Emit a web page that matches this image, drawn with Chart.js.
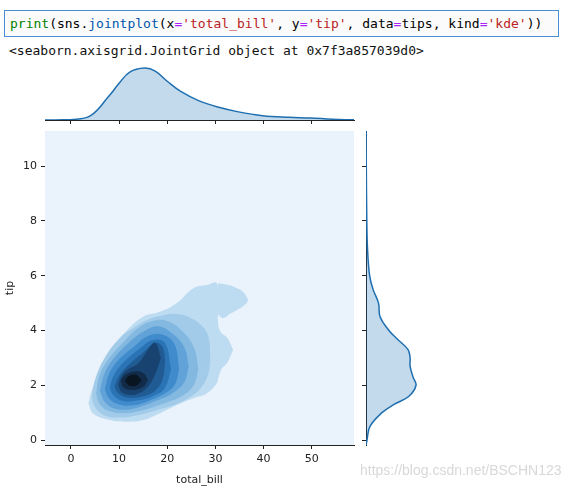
<!DOCTYPE html>
<html>
<head>
<meta charset="utf-8">
<script src="https://cdn.jsdelivr.net/npm/chart.js@4"></script>
<style>
  body { margin: 0; width: 566px; height: 491px; background: #fff; position: relative; overflow: hidden; }
  .cell { position: absolute; left: 4px; top: 10px; width: 555px; height: 27px; border: 1px solid #4a8fd4; background: #fbfbfb;
          font: 13px "DejaVu Sans Mono", monospace; line-height: 25px; padding-left: 5px; box-sizing: border-box; white-space: pre; }
  .out { position: absolute; left: 9px; top: 43px; font: 13px "DejaVu Sans Mono", monospace; white-space: pre; color: #111; }
  .k { color: #008000; } .f { color: #0055aa; } .s { color: #ba2121; } .o { color: #aa22ff; }
  canvas { position: absolute; }
  .wm { position: absolute; left: 360px; top: 462px; font: 14px "Liberation Sans", sans-serif; color: #d8d8d8; }
</style>
</head>
<body>
<div class="cell"><span class="k">print</span>(sns.<span class="f">jointplot</span>(x<span class="o">=</span><span class="s">'total_bill'</span>, y<span class="o">=</span><span class="s">'tip'</span>, data<span class="o">=</span>tips, kind<span class="o">=</span><span class="s">'kde'</span>))</div>
<div class="out">&lt;seaborn.axisgrid.JointGrid object at 0x7f3a857039d0&gt;</div>
<div style="position:absolute;left:0;top:60px;width:360px;height:70px"><canvas id="top"></canvas></div>
<div style="position:absolute;left:0;top:120px;width:360px;height:371px"><canvas id="main"></canvas></div>
<div style="position:absolute;left:356px;top:120px;width:80px;height:371px"><canvas id="right"></canvas></div>
<div class="wm">https://blog.csdn.net/BSCHN123</div>
<script>
const xTicks = [0, 10, 20, 30, 40, 50];
const yTicks = [0, 2, 4, 6, 8, 10];

// marginal KDE of total_bill
const billGrid = [-5.4, 0.1, 4, 7.8, 10, 12.2, 15.3, 17.5, 20, 22.8, 26.5, 30.3, 34.8, 39.8, 45.3, 49.8, 54.3, 58.8];
const billDensity = [0, 0.0006, 0.005, 0.0285, 0.0446, 0.0583, 0.0632, 0.0595, 0.0471, 0.0347, 0.0236, 0.0161, 0.0099, 0.0053, 0.0033, 0.0025, 0.0009, 0.0002];

// marginal KDE of tip
const tipGrid = [-0.2, 0, 0.5, 1, 1.3, 1.6, 2, 2.3, 2.7, 3, 3.3, 3.7, 4, 4.5, 5, 5.5, 6, 7, 8, 10, 11.3];
const tipDensity = [0, 0.0044, 0.0176, 0.0704, 0.123, 0.189, 0.22, 0.207, 0.194, 0.194, 0.185, 0.136, 0.101, 0.062, 0.055, 0.031, 0.016, 0.0066, 0.0035, 0.0013, 0.0004];

// joint KDE contour bands, outer -> inner: [xs, lower, upper]
const levelColors = ["#bedcf1", "#a2cbe9", "#83b8e1", "#61a3d8", "#408bcb", "#2a73b5", "#215b94", "#184370", "#112b48", "#0a1522"];
const bands = [
  [[3.6, 4.6, 8.1, 11.6, 15, 18.5, 22, 25.4, 28.2, 30.3, 30.6, 31.3, 32.4, 33.7],
   [1.34, 0.97, 0.73, 0.67, 0.73, 0.98, 1.28, 1.53, 1.7, 2.07, 2.25, 2.6, 2.8, 3.3],
   [1.34, 1.95, 3.2, 4.0, 4.5, 4.68, 5.0, 5.54, 5.66, 5.72, 4.2, 3.9, 3.75, 3.3]],
  [[30.4, 31.6, 33, 34.4, 35.5, 36.5, 36.8],
   [4.6, 4.45, 4.6, 4.74, 4.85, 5.0, 5.1],
   [5.72, 5.7, 5.65, 5.55, 5.45, 5.23, 5.1]],
  [[4.3, 5, 7, 10, 13, 16, 19, 22, 25, 27, 28.5, 29],
   [1.58, 1.2, 0.9, 0.82, 0.88, 1.0, 1.15, 1.32, 1.6, 1.9, 2.4, 3.0],
   [1.58, 2.2, 3.0, 3.7, 4.1, 4.4, 4.55, 4.6, 4.45, 4.2, 3.8, 3.0]],
  [[5.2, 6, 8, 11, 14, 17, 20, 23, 25.5, 26.5],
   [1.7, 1.3, 1.05, 0.98, 1.05, 1.2, 1.38, 1.6, 2.0, 2.6],
   [1.7, 2.4, 3.0, 3.6, 4.1, 4.35, 4.35, 4.0, 3.4, 2.6]],
  [[6, 7, 9, 12, 15, 18, 21, 23.5, 24.5],
   [1.8, 1.4, 1.15, 1.12, 1.25, 1.45, 1.7, 2.1, 2.7],
   [1.8, 2.45, 3.0, 3.55, 3.95, 4.15, 3.9, 3.4, 2.7]],
  [[7, 8, 10, 13, 16, 19, 21.5, 22.5],
   [1.85, 1.5, 1.3, 1.27, 1.42, 1.65, 2.0, 2.6],
   [1.85, 2.45, 2.95, 3.4, 3.8, 3.85, 3.5, 2.6]],
  [[8, 9, 11, 14, 17, 19.5, 20.8],
   [1.9, 1.6, 1.42, 1.45, 1.6, 1.9, 2.6],
   [1.9, 2.4, 2.85, 3.3, 3.65, 3.55, 2.6]],
  [[9, 10, 12, 15, 17.5, 19, 19.6],
   [1.95, 1.68, 1.55, 1.6, 1.8, 2.2, 2.9],
   [1.95, 2.35, 2.75, 3.2, 3.55, 3.4, 2.9]],
  [[9.8, 10.5, 12, 14, 16, 17.5, 18.7],
   [2.0, 1.75, 1.65, 1.7, 1.95, 2.4, 3.0],
   [2.0, 2.35, 2.6, 2.8, 3.3, 3.55, 3.0]],
  [[10.3, 11, 13, 15, 16],
   [2.15, 1.9, 1.83, 1.95, 2.2],
   [2.15, 2.35, 2.5, 2.45, 2.2]],
  [[11.2, 12, 13.5, 14.7],
   [2.17, 2.0, 1.98, 2.17],
   [2.17, 2.34, 2.38, 2.17]],
];
// which colour each band uses
const bandLevel = [0, 0, 1, 2, 3, 4, 5, 6, 7, 8, 9];

Chart.defaults.font.family = "DejaVu Sans";
Chart.defaults.font.size = 11;
Chart.defaults.color = "#222";
Chart.defaults.animation = false;
Chart.defaults.responsive = true;
Chart.defaults.maintainAspectRatio = false;
Chart.defaults.plugins.legend.display = false;
Chart.defaults.plugins.tooltip.enabled = false;

const fixTicks = (vals) => (s) => { s.ticks = vals.map((v) => ({value: v})); };
const tickGrid = {drawOnChartArea: false, tickLength: 4, color: "#222"};
const border = {color: "#222", width: 1};

const plotBg = {
  id: "plotBg",
  beforeDatasetsDraw(chart) {
    const {ctx, chartArea: a} = chart;
    ctx.save();
    ctx.fillStyle = "#eaf3fb";
    ctx.fillRect(a.left, a.top, a.right - a.left, a.bottom - a.top);
    ctx.restore();
  },
};

// inner bands first so they are painted last
const datasets = [];
for (let i = bands.length - 1; i >= 0; i--) {
  const [xs, lo, hi] = bands[i];
  const color = levelColors[bandLevel[i]];
  datasets.push({data: xs.map((x, j) => ({x, y: lo[j]})), pointRadius: 0, borderWidth: 0, fill: false, tension: 0.4});
  datasets.push({data: xs.map((x, j) => ({x, y: hi[j]})), pointRadius: 0, borderWidth: 0, fill: "-1", backgroundColor: color, tension: 0.4});
}

new Chart(document.getElementById("main"), {
  type: "line",
  data: {datasets},
  plugins: [plotBg],
  options: {
    layout: {padding: {top: 11, right: 6}},
    scales: {
      x: {type: "linear", min: -5.4, max: 58.8, afterBuildTicks: fixTicks(xTicks), afterFit: (s) => { s.height = 46; },
          grid: tickGrid, border, ticks: {padding: 4},
          title: {display: true, text: "total_bill", padding: {top: 2}}},
      y: {type: "linear", min: -0.18, max: 11.28, afterBuildTicks: fixTicks(yTicks), afterFit: (s) => { s.width = 45; },
          grid: tickGrid, border, ticks: {padding: 4},
          title: {display: true, text: "tip", padding: {bottom: 2}}},
    },
  },
});

new Chart(document.getElementById("top"), {
  type: "line",
  data: {datasets: [{data: billGrid.map((x, i) => ({x, y: billDensity[i]})), borderColor: "#1f6fb0", borderWidth: 1.5,
                     backgroundColor: "rgba(31,119,180,0.27)", fill: "origin", pointRadius: 0, tension: 0.4}]},
  options: {
    layout: {padding: {left: 45, right: 6}},
    scales: {
      x: {type: "linear", min: -5.4, max: 58.8, afterBuildTicks: fixTicks(xTicks), afterFit: (s) => { s.height = 10; },
          grid: tickGrid, border, ticks: {display: false}},
      y: {display: false, min: 0, max: 0.073},
    },
  },
});

new Chart(document.getElementById("right"), {
  type: "line",
  data: {datasets: [{data: tipGrid.map((y, i) => ({x: tipDensity[i], y})), borderColor: "#1f6fb0", borderWidth: 1.5,
                     backgroundColor: "rgba(31,119,180,0.27)", fill: "origin", pointRadius: 0, tension: 0.4}]},
  options: {
    indexAxis: "y",
    layout: {padding: {top: 11, bottom: 46, right: 10}},
    scales: {
      x: {type: "linear", display: false, min: 0, max: 0.264},
      y: {type: "linear", min: -0.18, max: 11.28, afterBuildTicks: fixTicks(yTicks), afterFit: (s) => { s.width = 10; },
          grid: tickGrid, border, ticks: {display: false}},
    },
  },
});
</script>
</body>
</html>
